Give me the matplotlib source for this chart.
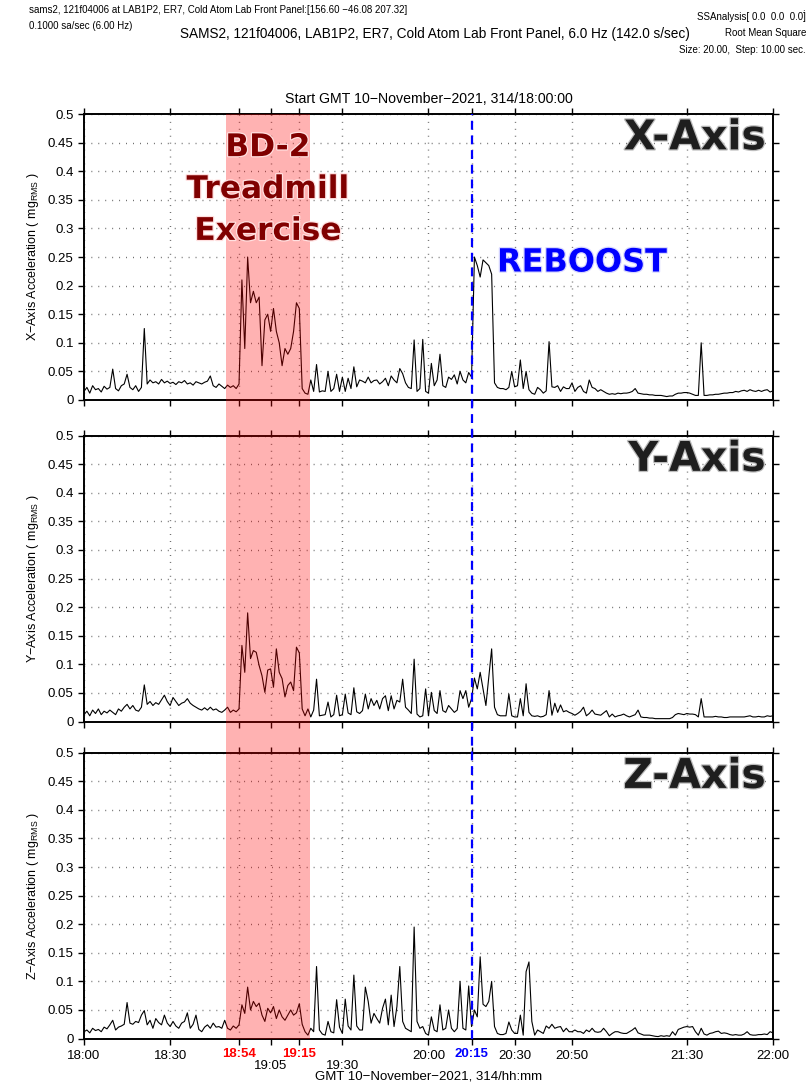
import numpy as np
import matplotlib
matplotlib.use('Agg')
import matplotlib.pyplot as plt
import matplotlib.patheffects as pe
from matplotlib.transforms import blended_transform_factory
from matplotlib.patches import Rectangle
from matplotlib.lines import Line2D

plt.rcParams['font.family'] = ['Liberation Sans', 'DejaVu Sans']
plt.rcParams['mathtext.fontset'] = 'custom'
plt.rcParams['mathtext.rm'] = 'Liberation Sans'

# ---------------- data ----------------
t_start = "18:00"
t_end = "22:00"
step_min = 1  # one value per minute

x_rms = [
    0.015, 0.022, 0.012, 0.025, 0.018, 0.020, 0.014, 0.024, 0.019, 0.022,
    0.054, 0.020, 0.016, 0.025, 0.028, 0.045, 0.022, 0.018, 0.025, 0.015,
    0.022, 0.125, 0.028, 0.035, 0.030, 0.032, 0.028, 0.036, 0.030, 0.033,
    0.029, 0.031, 0.027, 0.032, 0.030, 0.034, 0.028, 0.030, 0.026, 0.032,
    0.030, 0.028, 0.031, 0.033, 0.042, 0.025, 0.022, 0.028, 0.024, 0.020,
    0.026, 0.022, 0.025, 0.020, 0.028, 0.210, 0.090, 0.250, 0.170, 0.190,
    0.170, 0.180, 0.060, 0.140, 0.150, 0.120, 0.160, 0.120, 0.100, 0.060,
    0.090, 0.080, 0.090, 0.120, 0.170, 0.160, 0.020, 0.012, 0.010, 0.035,
    0.015, 0.062, 0.014, 0.016, 0.015, 0.050, 0.015, 0.020, 0.045, 0.015,
    0.040, 0.015, 0.038, 0.020, 0.058, 0.023, 0.035, 0.033, 0.030, 0.040,
    0.030, 0.034, 0.035, 0.028, 0.032, 0.038, 0.025, 0.042, 0.035, 0.030,
    0.055, 0.046, 0.030, 0.022, 0.020, 0.105, 0.015, 0.020, 0.106, 0.015,
    0.012, 0.064, 0.025, 0.035, 0.080, 0.025, 0.022, 0.040, 0.036, 0.044,
    0.028, 0.050, 0.035, 0.030, 0.048, 0.040, 0.250, 0.235, 0.215, 0.245,
    0.240, 0.235, 0.220, 0.030, 0.022, 0.020, 0.020, 0.018, 0.022, 0.050,
    0.023, 0.025, 0.070, 0.020, 0.050, 0.018, 0.012, 0.010, 0.022, 0.018,
    0.012, 0.016, 0.102, 0.023, 0.022, 0.025, 0.015, 0.023, 0.020, 0.020,
    0.030, 0.015, 0.022, 0.025, 0.015, 0.012, 0.035, 0.022, 0.020, 0.015,
    0.018, 0.015, 0.012, 0.010, 0.011, 0.010, 0.012, 0.011, 0.012, 0.012,
    0.013, 0.015, 0.020, 0.012, 0.011, 0.010, 0.010, 0.009, 0.009, 0.008,
    0.008, 0.008, 0.007, 0.006, 0.007, 0.007, 0.010, 0.012, 0.012, 0.013,
    0.013, 0.012, 0.010, 0.008, 0.008, 0.100, 0.008, 0.008, 0.009, 0.009,
    0.010, 0.010, 0.011, 0.012, 0.012, 0.013, 0.013, 0.015, 0.014, 0.016,
    0.017, 0.015, 0.018, 0.016, 0.015, 0.017, 0.015, 0.017, 0.018, 0.014,
    0.016,
]

y_rms = [
    0.012, 0.018, 0.010, 0.020, 0.014, 0.022, 0.012, 0.018, 0.015, 0.020,
    0.016, 0.012, 0.022, 0.018, 0.025, 0.030, 0.022, 0.028, 0.020, 0.018,
    0.025, 0.064, 0.030, 0.035, 0.028, 0.033, 0.030, 0.038, 0.046, 0.035,
    0.028, 0.042, 0.035, 0.028, 0.032, 0.034, 0.040, 0.032, 0.028, 0.025,
    0.022, 0.020, 0.024, 0.020, 0.025, 0.020, 0.022, 0.018, 0.016, 0.020,
    0.025, 0.016, 0.020, 0.017, 0.022, 0.133, 0.086, 0.190, 0.110, 0.124,
    0.121, 0.098, 0.080, 0.051, 0.090, 0.092, 0.060, 0.127, 0.086, 0.075,
    0.043, 0.063, 0.069, 0.054, 0.130, 0.120, 0.022, 0.010, 0.022, 0.008,
    0.020, 0.074, 0.010, 0.011, 0.012, 0.034, 0.008, 0.012, 0.046, 0.010,
    0.012, 0.048, 0.015, 0.012, 0.059, 0.017, 0.014, 0.019, 0.048, 0.022,
    0.040, 0.028, 0.037, 0.022, 0.040, 0.045, 0.019, 0.045, 0.022, 0.037,
    0.034, 0.074, 0.025, 0.020, 0.014, 0.109, 0.013, 0.008, 0.010, 0.057,
    0.010, 0.051, 0.019, 0.014, 0.054, 0.019, 0.016, 0.028, 0.022, 0.016,
    0.020, 0.054, 0.040, 0.054, 0.025, 0.040, 0.076, 0.057, 0.086, 0.057,
    0.028, 0.077, 0.127, 0.025, 0.012, 0.010, 0.010, 0.010, 0.048, 0.010,
    0.008, 0.008, 0.040, 0.010, 0.066, 0.016, 0.010, 0.009, 0.010, 0.008,
    0.009, 0.012, 0.054, 0.011, 0.032, 0.016, 0.029, 0.017, 0.019, 0.016,
    0.014, 0.011, 0.014, 0.018, 0.025, 0.010, 0.014, 0.020, 0.013, 0.012,
    0.011, 0.015, 0.019, 0.008, 0.013, 0.008, 0.010, 0.011, 0.013, 0.010,
    0.008, 0.010, 0.012, 0.020, 0.008, 0.007, 0.007, 0.006, 0.006, 0.005,
    0.005, 0.005, 0.005, 0.005, 0.005, 0.007, 0.012, 0.014, 0.013, 0.012,
    0.014, 0.013, 0.013, 0.012, 0.008, 0.040, 0.008, 0.008, 0.008, 0.008,
    0.009, 0.008, 0.008, 0.007, 0.007, 0.008, 0.008, 0.008, 0.008, 0.008,
    0.008, 0.009, 0.010, 0.008, 0.008, 0.009, 0.008, 0.008, 0.010, 0.009,
    0.010,
]

z_rms = [
    0.012, 0.015, 0.010, 0.018, 0.014, 0.016, 0.012, 0.020, 0.017, 0.024,
    0.032, 0.015, 0.020, 0.022, 0.025, 0.063, 0.027, 0.025, 0.030, 0.028,
    0.041, 0.049, 0.024, 0.032, 0.018, 0.035, 0.028, 0.024, 0.041, 0.027,
    0.021, 0.030, 0.022, 0.018, 0.027, 0.030, 0.045, 0.018, 0.025, 0.041,
    0.016, 0.012, 0.020, 0.024, 0.018, 0.027, 0.020, 0.021, 0.018, 0.032,
    0.018, 0.015, 0.022, 0.018, 0.024, 0.059, 0.044, 0.090, 0.050, 0.065,
    0.056, 0.062, 0.041, 0.030, 0.053, 0.045, 0.056, 0.035, 0.050, 0.038,
    0.032, 0.041, 0.050, 0.041, 0.045, 0.061, 0.025, 0.012, 0.006, 0.018,
    0.012, 0.126, 0.015, 0.008, 0.006, 0.030, 0.012, 0.010, 0.068, 0.020,
    0.009, 0.069, 0.022, 0.015, 0.111, 0.022, 0.015, 0.015, 0.090, 0.065,
    0.027, 0.044, 0.035, 0.027, 0.053, 0.069, 0.024, 0.076, 0.021, 0.056,
    0.126, 0.030, 0.018, 0.015, 0.012, 0.195, 0.030, 0.018, 0.021, 0.009,
    0.006, 0.038, 0.015, 0.012, 0.059, 0.015, 0.018, 0.050, 0.018, 0.012,
    0.018, 0.100, 0.018, 0.015, 0.092, 0.021, 0.050, 0.038, 0.143, 0.060,
    0.056, 0.065, 0.100, 0.021, 0.009, 0.007, 0.007, 0.009, 0.029, 0.015,
    0.009, 0.009, 0.041, 0.006, 0.117, 0.134, 0.030, 0.006, 0.015, 0.012,
    0.009, 0.022, 0.018, 0.025, 0.018, 0.020, 0.021, 0.012, 0.018, 0.012,
    0.012, 0.015, 0.012, 0.012, 0.009, 0.015, 0.012, 0.018, 0.012, 0.011,
    0.012, 0.018, 0.012, 0.005, 0.009, 0.012, 0.012, 0.010, 0.009, 0.009,
    0.012, 0.015, 0.019, 0.010, 0.008, 0.006, 0.006, 0.006, 0.005, 0.004,
    0.0035, 0.005, 0.004, 0.005, 0.004, 0.012, 0.006, 0.016, 0.018, 0.020,
    0.021, 0.020, 0.021, 0.012, 0.006, 0.018, 0.008, 0.006, 0.009, 0.010,
    0.012, 0.013, 0.009, 0.010, 0.009, 0.007, 0.006, 0.007, 0.006, 0.006,
    0.008, 0.012, 0.007, 0.006, 0.006, 0.007, 0.007, 0.008, 0.007, 0.012,
    0.010,
]

axis_names = ["X", "Y", "Z"]
tick_labels = ["18:00", "18:30", "18:54", "19:05", "19:15", "19:30",
               "20:00", "20:15", "20:30", "20:50", "21:30", "22:00"]
exercise_span = ("18:49:30", "19:18:40")
reboost_time = "20:15"
y_ticks = [0, 0.05, 0.1, 0.15, 0.2, 0.25, 0.3, 0.35, 0.4, 0.45, 0.5]


def to_min(s):
    parts = [int(p) for p in s.split(':')]
    h, m = parts[0], parts[1]
    sec = parts[2] if len(parts) > 2 else 0
    return (h - 18) * 60 + m + sec / 60.0


t0 = to_min(t_start)
t1 = to_min(t_end)
minutes = np.arange(t0, t1 + step_min, step_min)
series = [x_rms, y_rms, z_rms]
tick_pos = [to_min(s) for s in tick_labels]

# ---------------- figure ----------------
fig = plt.figure(figsize=(8.11, 10.84), dpi=100)
left, width = 0.1036, 0.8495
bottoms = [0.6310, 0.3344, 0.0419]
height = 0.2638
axes = []
for i, (name, vals) in enumerate(zip(axis_names, series)):
    ax = fig.add_axes([left, bottoms[i], width, height])
    ax.plot(minutes, vals, color='black', lw=0.8, zorder=3)
    ax.set_xlim(t0, t1)
    ax.set_ylim(0, 0.5)
    ax.set_yticks(y_ticks)
    ax.set_yticklabels(["0" if v == 0 else f"{v:g}" for v in y_ticks], fontsize=9.5)
    ax.set_xticks(tick_pos)
    ax.grid(True, color='#555555', linestyle=(0, (0.6, 4.4)), lw=1.0)
    ax.tick_params(axis='both', direction='out', length=4, width=1,
                   top=True, bottom=True, left=True, right=True,
                   labelright=False, labeltop=False)
    for sp in ax.spines.values():
        sp.set_linewidth(1.4)
    ax.set_ylabel(f"{name}\u2212Axis Acceleration ( mg$_{{\\mathregular{{RMS}}}}$ )",
                  fontsize=9)
    ax.yaxis.set_label_coords(-0.063, 0.5)
    if i < 2:
        ax.tick_params(axis='x', labelbottom=False)
    else:
        ax.set_xticklabels(tick_labels, fontsize=9.5)
        ticks = ax.xaxis.get_major_ticks()
        for tk, lab in zip(ticks, tick_labels):
            if lab in ("18:54", "19:15"):
                tk.label1.set_color('red')
                tk.label1.set_fontweight('bold')
                tk.set_pad(2.5)
            elif lab == "20:15":
                tk.label1.set_color('blue')
                tk.label1.set_fontweight('bold')
                tk.tick1line.set_color('blue')
                tk.set_pad(2.5)
            elif lab in ("19:05", "19:30"):
                tk.set_pad(11.5)
            else:
                tk.set_pad(4.5)
        ax.set_xlabel("GMT 10\u2212November\u22122021, 314/hh:mm", fontsize=9.5, labelpad=-1)
    axes.append(ax)

axes[0].set_title("Start GMT 10\u2212November\u22122021, 314/18:00:00", fontsize=10.2, pad=8)

# shading and reboost line spanning all panels
trans = blended_transform_factory(axes[0].transData, fig.transFigure)
ybot = bottoms[2]
ytop = bottoms[0] + height
s0, s1 = to_min(exercise_span[0]), to_min(exercise_span[1])
rect = Rectangle((s0, ybot), s1 - s0, ytop - ybot, transform=trans,
                 facecolor='red', alpha=0.3, edgecolor='none', zorder=5)
fig.add_artist(rect)
rb = to_min(reboost_time)
fig.add_artist(Line2D([rb, rb], [ybot, ytop], transform=trans, color='blue',
                      lw=1.6, linestyle=(0, (4, 2.6)), zorder=6))

# big annotations
glow_gray = [pe.withStroke(linewidth=1.8, foreground='#bdbdbd')]
for ax, name in zip(axes, axis_names):
    fig.text(0.99, 0.915, f"{name}-Axis", transform=ax.transAxes, ha='right', va='center',
             fontsize=29.5, fontweight='bold', family='DejaVu Sans', color='#1e1e1e',
             path_effects=glow_gray, zorder=8)

fig.text(0.267, 0.736, "BD-2\nTreadmill\nExercise", transform=axes[0].transAxes,
         ha='center', va='center', fontsize=22.5, fontweight='bold', family='DejaVu Sans',
         color='#800000', linespacing=1.56,
         path_effects=[pe.withStroke(linewidth=1.8, foreground='#ffe0e0')], zorder=8)
fig.text(0.5995, 0.479, "REBOOST", transform=axes[0].transAxes, ha='left', va='center',
         fontsize=23, fontweight='bold', family='DejaVu Sans', color='#0000ff',
         path_effects=[pe.withStroke(linewidth=1.8, foreground='#d8d8ff')], zorder=8)

# header texts
fig.text(29 / 811, 1 - 10 / 1084,
         "sams2, 121f04006 at LAB1P2, ER7, Cold Atom Lab Front Panel:[156.60 \u221246.08 207.32]",
         fontsize=7, ha='left', va='center')
fig.text(29 / 811, 1 - 26 / 1084, "0.1000 sa/sec (6.00 Hz)", fontsize=7, ha='left', va='center')
fig.text(435 / 811, 1 - 34 / 1084,
         "SAMS2, 121f04006, LAB1P2, ER7, Cold Atom Lab Front Panel, 6.0 Hz (142.0 s/sec)",
         fontsize=9.8, ha='center', va='center')
fig.text(806 / 811, 1 - 17 / 1084, "SSAnalysis[ 0.0  0.0  0.0]", fontsize=7, ha='right', va='center')
fig.text(806 / 811, 1 - 33 / 1084, "Root Mean Square", fontsize=7, ha='right', va='center')
fig.text(806 / 811, 1 - 50 / 1084, "Size: 20.00,  Step: 10.00 sec.", fontsize=7, ha='right', va='center')
fig.text(803 / 811, 1 - 8 / 1084, ".", fontsize=7, ha='center', va='center')

fig.savefig("out.png", dpi=100)
